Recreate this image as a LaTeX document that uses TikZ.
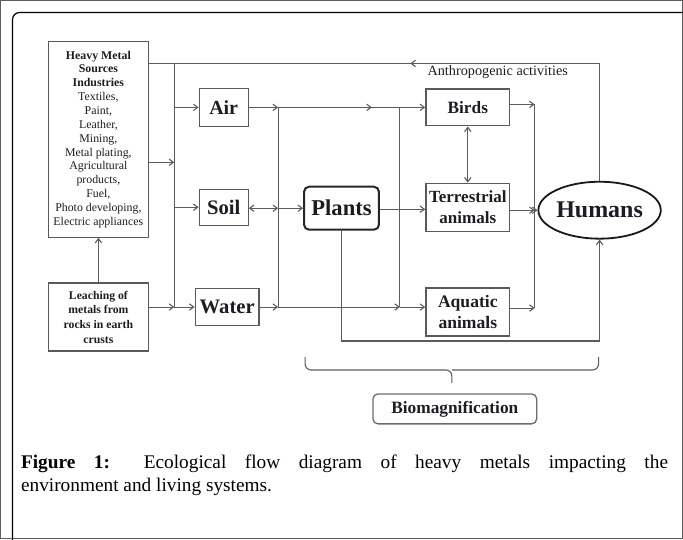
\documentclass[tikz,border=0pt]{standalone}
\usepackage{fontspec}
\setmainfont{Liberation Serif}
\usetikzlibrary{arrows.meta,shapes.geometric,decorations.markings}
\newlength\pxu
\setlength\pxu{0.75pt}
\definecolor{linegray}{HTML}{5C5C5C}
\definecolor{boxgray}{HTML}{5A5A5A}
\definecolor{txt}{HTML}{1C1C24}
\begin{document}
\begin{tikzpicture}[x=0.75pt,y=-0.75pt,
  line width=1.1\pxu,
  >={Straight Barb[length=3.2pt,width=4.8pt]},
  every path/.append style={draw=linegray},
  box/.style={draw=boxgray, line width=1.3\pxu, inner sep=0pt, align=center, text=txt, font=\bfseries},
  midarrow/.style={postaction={decorate},decoration={markings,mark=at position #1 with {\arrow{>}}}}
]
\useasboundingbox (0,0) rectangle (683,539);
% frame
\draw[draw=black, line width=1.2\pxu, rounded corners=7\pxu] (12,545) -- (12,12) -- (690,12);

% nodes
\node[box, minimum width=100\pxu, minimum height=196\pxu, font=\fontsize{8.9}{10.4}\selectfont] (src) at (98,139)
  {\textbf{Heavy Metal}\\\textbf{Sources}\\\textbf{Industries}\\Textiles,\\Paint,\\Leather,\\Mining,\\Metal plating,\\Agricultural\\products,\\Fuel,\\Photo developing,\\Electric appliances};
\node[box, minimum width=100\pxu, minimum height=68\pxu, font=\bfseries\fontsize{8.8}{11}\selectfont] (leach) at (98,317)
  {Leaching of\\metals from\\rocks in earth\\crusts};
\node[box, minimum width=49\pxu, minimum height=38\pxu, font=\bfseries\fontsize{15}{17}\selectfont] (air) at (223.5,107) {Air};
\node[box, minimum width=49\pxu, minimum height=36\pxu, font=\bfseries\fontsize{15.5}{17}\selectfont] (soil) at (223.5,207) {Soil};
\node[box, minimum width=64\pxu, minimum height=37\pxu, font=\bfseries\fontsize{15.5}{17}\selectfont] (water) at (227,307) {Water};
\node[box, draw=black!85, line width=2\pxu, rounded corners=5\pxu, minimum width=75\pxu, minimum height=43\pxu, font=\bfseries\fontsize{17}{19}\selectfont] (plants) at (341.5,208) {Plants};
\node[box, minimum width=84\pxu, minimum height=37\pxu, font=\bfseries\fontsize{13}{15}\selectfont] (birds) at (468,107) {Birds};
\node[box, minimum width=84\pxu, minimum height=48\pxu, font=\bfseries\fontsize{12.8}{16}\selectfont] (terr) at (468,207) {Terrestrial\\animals};
\node[box, minimum width=84\pxu, minimum height=48\pxu, font=\bfseries\fontsize{13.2}{15.5}\selectfont] (aqua) at (468,312) {Aquatic\\animals};
\node[box, ellipse, draw=black!90, line width=1.8\pxu, minimum width=101\pxu, minimum height=57\pxu, font=\bfseries\fontsize{18}{20}\selectfont] (humans) at (600,210) {Humans};
\node[box, draw=boxgray!90, rounded corners=5\pxu, minimum width=164\pxu, minimum height=30\pxu, font=\bfseries\fontsize{13}{15}\selectfont] (bio) at (455,409) {Biomagnification};
\node[text=txt, inner sep=0pt, font=\fontsize{10.7}{12}\selectfont] (anthro) at (498,72) {Anthropogenic activities};

% junction coordinates
\coordinate (top) at (600,63);
\coordinate (b1top) at (174,63);
\coordinate (b1air) at (174,107);
\coordinate (b1src) at (174,162);
\coordinate (b1soil) at (174,207);
\coordinate (b1bot) at (174,307);
\coordinate (b2air) at (278,107);
\coordinate (b2soil) at (278,208);
\coordinate (b2water) at (278,307);
\coordinate (b3air) at (400,107);
\coordinate (b3pl) at (400,209);
\coordinate (b3water) at (400,307);
\coordinate (b4b) at (535,104);
\coordinate (b4t) at (535,210);
\coordinate (b4a) at (535,308);
\coordinate (hb) at (600,341);
\coordinate (brL) at (305,357);
\coordinate (brR) at (599,357);
\coordinate (brM) at (452,370);
\coordinate (brTip) at (452,383);

% anthropogenic feedback
\draw (humans.north) -- (top);
\draw[midarrow=0.42] (top) -- (src.east |- top);
% bus 1
\draw (b1top) -- (b1bot);
\draw[->] (src.east |- b1src) -- (b1src);
\draw[->] (b1air) -- (air.west);
\draw[->] (b1soil) -- (soil.west);
\draw[->] (b1bot) -- (water.west);
\draw[->] (leach.east |- b1bot) -- (b1bot);
\draw[->] (leach.north) -- (src.south);
% bus 2
\draw (b2air) -- (b2water);
\draw[->] (air.east) -- (b2air);
\draw[<->] (soil.east |- b2soil) -- (b2soil);
\draw[->] (b2soil) -- (plants.west |- b2soil);
\draw[->] (water.east) -- (b2water);
% bus 3
\draw (b3air) -- (b3water);
\draw[midarrow=0.77] (b2air) -- (b3air);
\draw[->] (b3air) -- (birds.west);
\draw (plants.east |- b3pl) -- (b3pl);
\draw[->] (b3pl) -- (terr.west |- b3pl);
\draw[->] (b2water) -- (b3water);
\draw[->] (b3water) -- (aqua.west |- b3water);
\draw[<->] (birds.south) -- (terr.north);
% bus 4
\draw (b4b) -- (b4a);
\draw[->] (birds.east |- b4b) -- (b4b);
\draw[->] (terr.east |- b4t) -- (b4t);
\draw[->] (aqua.east |- b4a) -- (b4a);
\draw[->] (b4t) -- (humans.west);
% plants to humans
\draw[->] (plants.south) |- (hb) -- (humans.south);
% brace
\draw[rounded corners=6\pxu] (brL) -- (brL |- brM) -- (brM) -- (brTip);
\draw[rounded corners=6\pxu] (brR) -- (brR |- brM) -- (brM);

% caption
\node[anchor=base west, inner sep=0pt, text=black, font=\fontsize{14.5}{17}\selectfont] (cap1) at (20,469)
  {\makebox[648\pxu][s]{\textbf{Figure 1:} Ecological flow diagram of heavy metals impacting the}};
\node[anchor=base west, inner sep=0pt, text=black, font=\fontsize{14.5}{17}\selectfont] (cap2) at (20,492)
  {environment and living systems.};
\end{tikzpicture}
\end{document}
